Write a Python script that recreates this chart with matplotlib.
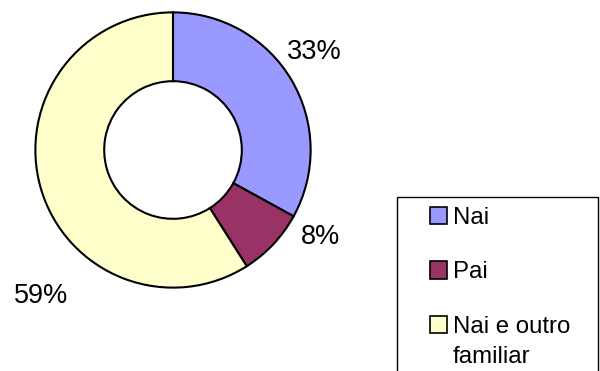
import matplotlib
matplotlib.use("Agg")
import matplotlib.pyplot as plt
from matplotlib.patches import Patch, Rectangle

categories = ["Nai", "Pai", "Nai e outro\nfamiliar"]
shares = [33, 8, 59]
pct_labels = ["33%", "8%", "59%"]
colors = ["#9999FF", "#993366", "#FFFFCC"]

plt.rcParams["font.family"] = ["Liberation Sans", "DejaVu Sans"]
FS_LABEL = 19.5
FS_LEGEND = 17.3

W, H = 600, 371
fig = plt.figure(figsize=(W / 100, H / 100), dpi=100)

# donut: centre (173,150) px from top-left, outer radius 139 px
cx, cy, R = 173, 150, 139
ax = fig.add_axes([(cx - R) / W, (H - cy - R) / H, 2 * R / W, 2 * R / H])
wedges, _ = ax.pie(
    shares,
    colors=colors,
    startangle=90,
    counterclock=False,
    radius=1.0,
    wedgeprops=dict(width=0.5, edgecolor="black", linewidth=1.5),
)
ax.set_xlim(-1.01, 1.01)
ax.set_ylim(-1.01, 1.01)
ax.set_aspect("equal")
ax.axis("off")

# percentage labels outside the ring
label_pos = [(1.03, 0.71), (1.07, -0.63), (-0.955, -1.06)]
for txt, (x, y) in zip(pct_labels, label_pos):
    ax.text(x, y, txt, ha="center", va="center", fontsize=FS_LABEL, clip_on=False)

# legend box
box = Rectangle((397 / W, (H - 380) / H), (598 - 397) / W, (380 - 197) / H,
                transform=fig.transFigure, facecolor="white",
                edgecolor="black", linewidth=1.0, zorder=0)
fig.add_artist(box)

handles = [Patch(facecolor=c, edgecolor="black", linewidth=1.2) for c in colors]
leg = fig.legend(
    handles, categories,
    loc="upper left",
    bbox_to_anchor=(430 / W, (H - 207) / H),
    bbox_transform=fig.transFigure,
    frameon=False,
    fontsize=FS_LEGEND,
    handlelength=0.72,
    handleheight=0.72,
    handletextpad=0.22,
    labelspacing=1.35,
    borderpad=0,
    borderaxespad=0,
)
leg.get_texts()[-1].set_linespacing(1.45)
# keep the swatch of the two-line entry level with its first line
entry_rows = leg._legend_handle_box.get_children()[0].get_children()
entry_rows[-1].align = "top"

fig.savefig("out.png", dpi=100)
